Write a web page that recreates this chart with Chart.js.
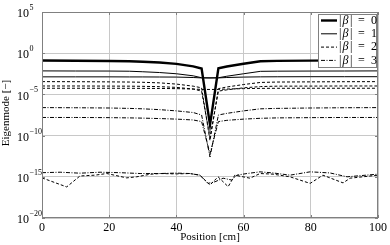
<!DOCTYPE html>
<html>
<head>
<meta charset="utf-8">
<script src="https://cdn.jsdelivr.net/npm/chart.js@4.4.1/dist/chart.umd.min.js"></script>
<style>
  html, body { margin: 0; padding: 0; background: #fff; }
  #wrap { width: 390px; height: 245px; }
</style>
</head>
<body>
<div id="wrap"><canvas id="modeChart" width="390" height="245"></canvas></div>
<script>
/* ===== Values ===== */
const positions = [0, 10, 20, 26, 30, 35, 40, 45, 47.5, 50, 52.5, 55, 60, 65, 70, 80, 90, 100];
const beta0  = [1.3e-1, 1.23e-1, 1.15e-1, 1.07e-1, 9.3e-2, 7.4e-2, 5.0e-2, 2.5e-2, 1.38e-2, 2.0e-9, 1.51e-2, 2.4e-2, 5.25e-2, 1.05e-1, 1.17e-1, 1.26e-1, 1.35e-1, 1.41e-1];
const beta1a = [7.1e-3, 6.9e-3, 6.8e-3, 6.5e-3, 5.6e-3, 4.5e-3, 3.2e-3, 1.8e-3, 1.05e-3, 1.0e-3, 1.05e-3, 1.6e-3, 3.2e-3, 6.3e-3, 6.6e-3, 6.8e-3, 6.9e-3, 7.1e-3];
const beta1b = [1.35e-3, 1.35e-3, 1.35e-3, 1.32e-3, 1.32e-3, 1.29e-3, 1.26e-3, 1.12e-3, 1.0e-3, 1.0e-3, 1.0e-3, 1.12e-3, 1.26e-3, 1.35e-3, 1.38e-3, 1.41e-3, 1.41e-3, 1.41e-3];
const beta2a = [3.55e-4, 3.47e-4, 3.31e-4, 3.16e-4, 2.95e-4, 2.51e-4, 1.78e-4, 1.0e-4, 6.3e-5, 2.5e-11, 5.0e-5, 7.9e-5, 1.58e-4, 2.82e-4, 3.16e-4, 3.31e-4, 3.47e-4, 3.55e-4];
const beta2b = [1.05e-4, 1.05e-4, 1.02e-4, 1.0e-4, 9.5e-5, 8.7e-5, 7.1e-5, 4.5e-5, 2.5e-5, 6.3e-11, 2.5e-5, 3.55e-5, 6.3e-5, 8.9e-5, 1.0e-4, 1.02e-4, 1.05e-4, 1.05e-4];
const beta2c = [5.6e-5, 5.6e-5, 5.6e-5, 5.5e-5, 5.4e-5, 5.25e-5, 5.0e-5, 4.5e-5, 4.0e-5, 4.0e-5, 4.0e-5, 4.5e-5, 5.0e-5, 5.4e-5, 5.5e-5, 5.6e-5, 5.6e-5, 5.6e-5];
const beta3a = [2.5e-7, 2.4e-7, 2.24e-7, 2.0e-7, 1.78e-7, 1.41e-7, 1.0e-7, 6.3e-8, 3.16e-8, 2.5e-13, 3.16e-8, 5.0e-8, 1.0e-7, 1.78e-7, 2.0e-7, 2.24e-7, 2.4e-7, 2.5e-7];
const beta3b = [1.58e-8, 1.58e-8, 1.51e-8, 1.41e-8, 1.32e-8, 1.17e-8, 1.0e-8, 7.9e-9, 5.0e-9, 6.3e-13, 5.0e-9, 7.1e-9, 1.0e-8, 1.26e-8, 1.41e-8, 1.51e-8, 1.58e-8, 1.58e-8];

// numerical noise floor around 1e-15
const noisePosA = [0, 7.35, 11.3, 15.8, 19.3, 25.2, 28.2, 32.1, 35.1, 40, 44, 47, 50, 52.4, 55.4, 57.4, 61.9, 64.9, 68.75, 73.8, 79.8, 83.6, 89.6, 91.7, 100];
const noiseA    = [7.4e-16, 5.9e-17, 1.26e-15, 1.58e-15, 2.5e-15, 7.4e-16, 1.0e-15, 2.0e-15, 2.5e-15, 2.24e-15, 2.5e-15, 1.58e-15, 1.0e-16, 1.0e-15, 6.3e-17, 1.58e-15, 6.8e-16, 2.5e-15, 2.1e-15, 1.0e-15, 1.58e-16, 1.58e-15, 1.82e-16, 6.8e-16, 1.58e-15];
const noisePosB = [0, 5.4, 11.3, 17.3, 23.2, 29.2, 35.1, 40, 44, 47, 49.4, 51.5, 53.9, 56.5, 58, 61, 64.9, 68.75, 73.8, 79.8, 85.7, 90.8, 100];
const noiseB    = [3.16e-15, 3.6e-15, 2.75e-15, 3.6e-15, 3.16e-15, 2.5e-15, 2.5e-15, 2.8e-15, 2.5e-15, 1.58e-15, 1.58e-16, 2.5e-16, 6.8e-16, 4.0e-16, 1.58e-15, 2.5e-15, 4.0e-15, 2.95e-15, 1.58e-15, 4.0e-15, 2.95e-15, 1.0e-15, 2.1e-15];

const xTicks = [0, 20, 40, 60, 80, 100];
const yExponents = [5, 0, -5, -10, -15, -20];
const legendLabels = ['0', '1', '2', '3'];

/* ===== Styles ===== */
const SERIF = '"Liberation Serif", "DejaVu Serif", serif';
const DASH = [3, 2];
const DASHDOT = [4, 1.5, 1, 1.5];
const AXIS_GRAY = '#808080';

function zip(xs, ys) {
  return xs.map((x, i) => ({ x: x, y: ys[i] }));
}

function line(data, width, dash) {
  return {
    data: data,
    borderColor: '#000',
    borderWidth: width,
    borderDash: dash,
    pointRadius: 0,
    tension: 0,
    fill: false
  };
}

const datasets = [
  line(zip(positions, beta0), 2.4, []),
  line(zip(positions, beta1a), 1, []),
  line(zip(positions, beta1b), 1, []),
  line(zip(positions, beta2a), 1, DASH),
  line(zip(positions, beta2b), 1, DASH),
  line(zip(positions, beta2c), 1, DASH),
  line(zip(positions, beta3a), 1, DASHDOT),
  line(zip(positions, beta3b), 1, DASHDOT),
  line(zip(noisePosA, noiseA), 1, DASH),
  line(zip(noisePosB, noiseB), 1, DASHDOT)
];

/* ===== Box, inward ticks, y labels, titles and legend ===== */
const decorations = {
  id: 'decorations',
  afterDatasetsDraw(chart) {
    const { ctx, chartArea: a, scales } = chart;
    const xs = scales.x, ys = scales.y;
    ctx.save();

    // axes box
    ctx.strokeStyle = AXIS_GRAY;
    ctx.lineWidth = 1;
    ctx.setLineDash([]);
    ctx.strokeRect(a.left + 0.5, a.top + 0.5, a.right - a.left - 1, a.bottom - a.top - 1);

    // inward tick marks
    ctx.beginPath();
    xTicks.forEach(v => {
      const px = Math.round(xs.getPixelForValue(v)) + 0.5;
      ctx.moveTo(px, a.bottom); ctx.lineTo(px, a.bottom - 3);
      ctx.moveTo(px, a.top); ctx.lineTo(px, a.top + 3);
    });
    yExponents.forEach(e => {
      const py = Math.round(ys.getPixelForValue(Math.pow(10, e))) + 0.5;
      ctx.moveTo(a.left, py); ctx.lineTo(a.left + 3, py);
      ctx.moveTo(a.right, py); ctx.lineTo(a.right - 3, py);
    });
    ctx.stroke();

    // y tick labels: 10 with superscript exponent
    ctx.fillStyle = '#000';
    ctx.textBaseline = 'middle';
    ctx.textAlign = 'left';
    yExponents.forEach(e => {
      const py = ys.getPixelForValue(Math.pow(10, e));
      ctx.font = '12px ' + SERIF;
      ctx.fillText('10', 17, py + 2);
      ctx.font = '8px ' + SERIF;
      ctx.fillText(e < 0 ? '\u2212' + (-e) : String(e), 29.5, py - 4);
    });

    // axis titles
    ctx.font = '11px ' + SERIF;
    ctx.textAlign = 'center';
    ctx.fillText('Position [cm]', (a.left + a.right) / 2, 237.5);
    ctx.save();
    ctx.translate(6.5, (a.top + a.bottom) / 2 - 2);
    ctx.rotate(-Math.PI / 2);
    ctx.fillText('Eigenmode [\u2212]', 0, 0);
    ctx.restore();

    // legend box
    const lx = 318, ly = 14, lw = a.right - 1 - lx - 1, lh = 53;
    ctx.fillStyle = '#fff';
    ctx.fillRect(lx, ly, lw, lh);
    ctx.strokeStyle = AXIS_GRAY;
    ctx.strokeRect(lx + 0.5, ly + 0.5, lw, lh);

    const styles = [[2.4, []], [1, []], [1, DASH], [1, DASHDOT]];
    legendLabels.forEach((lab, i) => {
      const ry = 20.5 + i * 13.3;
      ctx.strokeStyle = '#000';
      ctx.lineWidth = styles[i][0];
      ctx.setLineDash(styles[i][1]);
      ctx.beginPath();
      ctx.moveTo(321, ry); ctx.lineTo(337, ry);
      ctx.stroke();
      ctx.setLineDash([]);

      ctx.fillStyle = '#000';
      ctx.textAlign = 'left';
      ctx.font = '12px ' + SERIF;
      ctx.fillText('|', 339, ry);
      ctx.font = 'italic 12px ' + SERIF;
      ctx.fillText('\u03b2', 342.5, ry);
      ctx.font = '12px ' + SERIF;
      ctx.fillText('|', 350, ry);
      ctx.fillText('=', 358, ry);
      ctx.fillText(lab, 371, ry);
    });

    ctx.restore();
  }
};

/* ===== Chart ===== */
const ctx = document.getElementById('modeChart').getContext('2d');

const chart = new Chart(ctx, {
  type: 'line',
  data: { datasets },
  options: {
    responsive: false,
    animation: false,
    layout: { padding: { top: 12, right: 12, left: 0, bottom: 0 } },
    plugins: {
      legend: { display: false },
      tooltip: { enabled: false }
    },
    scales: {
      x: {
        type: 'linear',
        min: 0,
        max: 100,
        afterBuildTicks: s => { s.ticks = xTicks.map(v => ({ value: v })); },
        afterFit: s => { s.height = 27; },
        border: { display: false },
        grid: { color: '#c8c8c8', borderDash: [1, 2], drawTicks: false, lineWidth: 1 },
        ticks: {
          color: '#000',
          padding: 3,
          maxRotation: 0,
          font: { family: SERIF, size: 12 }
        }
      },
      y: {
        type: 'logarithmic',
        min: 1e-20,
        max: 1e5,
        afterBuildTicks: s => { s.ticks = yExponents.map(e => ({ value: Math.pow(10, e) })); },
        afterFit: s => { s.width = 42; },
        border: { display: false },
        grid: { color: '#c8c8c8', borderDash: [1, 2], drawTicks: false, lineWidth: 1 },
        ticks: { display: false }
      }
    }
  },
  plugins: [decorations]
});
</script>
</body>
</html>
